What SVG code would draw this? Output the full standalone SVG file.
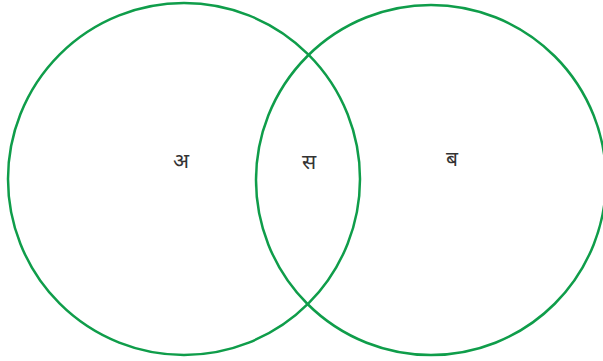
<svg xmlns="http://www.w3.org/2000/svg" width="603" height="361" viewBox="0 0 603 361">
<style>
.c{fill:none;stroke:#0f9d4a;stroke-width:2.5}
.t{font-family:"Noto Sans Devanagari","Noto Sans","Lohit Devanagari",sans-serif;font-size:21px;fill:#333;text-anchor:middle}
</style>
<rect width="603" height="361" fill="#fff"/>
<g id="setA"><circle class="c" cx="184" cy="179" r="176"/><text class="t" x="181" y="168">अ</text></g>
<g id="setB"><circle class="c" cx="431" cy="180" r="175"/><text class="t" x="452" y="166">ब</text></g>
<g id="intersection"><text class="t" x="309" y="169">स</text></g>
</svg>
